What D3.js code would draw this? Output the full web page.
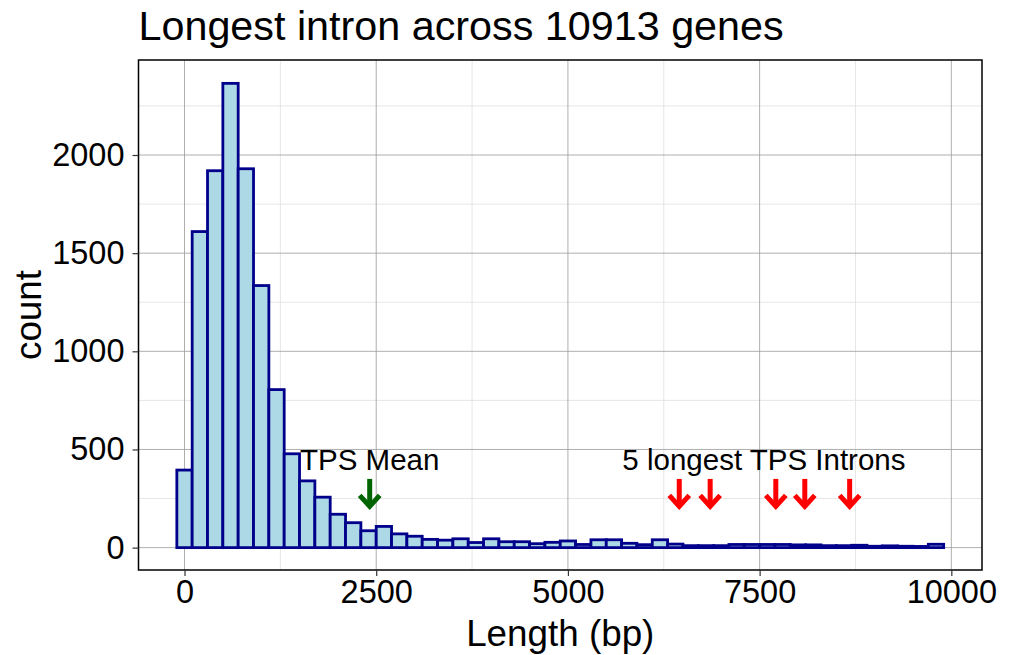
<!DOCTYPE html>
<html lang="en">
<head>
<meta charset="utf-8">
<title>Longest intron</title>
<style>
body { margin: 0; background: #fff; }
svg text { font-family: "Liberation Sans", Arial, sans-serif; fill: #000; }
.grid-major line { stroke: #9a9a9a; stroke-width: 0.8; }
.grid-minor line { stroke: #e0e0e0; stroke-width: 0.8; }
.axis text { font-size: 32.5px; }
.axis path { display: none; }
.axis line { stroke: #333; stroke-width: 1.2; }
</style>
</head>
<body>
<div id="chart"></div>
<script src="https://d3js.org/d3.v7.min.js"></script>
<script>
// histogram bins (centre of each 200 bp bin) and their counts
var binCenters = [0, 200, 400, 600, 800, 1000, 1200, 1400, 1600, 1800,
  2000, 2200, 2400, 2600, 2800, 3000, 3200, 3400, 3600, 3800,
  4000, 4200, 4400, 4600, 4800, 5000, 5200, 5400, 5600, 5800,
  6000, 6200, 6400, 6600, 6800, 7000, 7200, 7400, 7600, 7800,
  8000, 8200, 8400, 8600, 8800, 9000, 9200, 9400, 9600, 9800];
var counts = [395, 1610, 1920, 2365, 1930, 1335, 805, 478, 340, 257,
  170, 127, 86, 108, 70, 58, 42, 38, 45, 26,
  45, 30, 30, 20, 27, 34, 16, 40, 40, 22,
  15, 40, 18, 10, 10, 10, 16, 16, 16, 16,
  14, 14, 10, 10, 12, 7, 9, 7, 6, 17];
var binWidth = 200;

var xTicks = [0, 2500, 5000, 7500, 10000];
var xMinor = [1250, 3750, 6250, 8750];
var yTicks = [0, 500, 1000, 1500, 2000];
var yMinor = [250, 750, 1250, 1750, 2250];

// annotation arrows
var meanArrow = [2415];
var longestArrows = [6452, 6855, 7711, 8089, 8674];
var arrowFrom = 350, arrowTo = 200, labelY = 450;

var W = 1015, H = 655;
var margin = { top: 60, right: 33, bottom: 85, left: 138.5 };

var svg = d3.select("#chart").append("svg")
    .attr("width", W)
    .attr("height", H);

var x = d3.scaleLinear()
    .domain([-600, 10400])
    .range([margin.left, W - margin.right]);

var y = d3.scaleLinear()
    .domain([-114, 2484])
    .range([H - margin.bottom, margin.top]);

// grid
svg.append("g").attr("class", "grid-minor")
  .selectAll("line.v").data(xMinor).enter().append("line")
    .attr("x1", d => x(d)).attr("x2", d => x(d))
    .attr("y1", y.range()[0]).attr("y2", y.range()[1]);
svg.select(".grid-minor")
  .selectAll("line.h").data(yMinor).enter().append("line")
    .attr("y1", d => y(d)).attr("y2", d => y(d))
    .attr("x1", x.range()[0]).attr("x2", x.range()[1]);

var gMajor = svg.append("g").attr("class", "grid-major");
gMajor.selectAll("line.v").data(xTicks).enter().append("line")
    .attr("x1", d => x(d)).attr("x2", d => x(d))
    .attr("y1", y.range()[0]).attr("y2", y.range()[1]);
gMajor.selectAll("line.h").data(yTicks).enter().append("line")
    .attr("y1", d => y(d)).attr("y2", d => y(d))
    .attr("x1", x.range()[0]).attr("x2", x.range()[1]);

// bars
svg.append("g").selectAll("rect")
  .data(binCenters)
  .enter().append("rect")
    .attr("x", d => x(d - binWidth / 2))
    .attr("width", d => x(d + binWidth / 2) - x(d - binWidth / 2))
    .attr("y", (d, i) => y(counts[i]))
    .attr("height", (d, i) => y(0) - y(counts[i]))
    .attr("fill", "#add8e6")
    .attr("stroke", "#00008b")
    .attr("stroke-width", 2.8);

// arrows
function arrow(g, xv, color) {
  var px = x(xv), y0 = y(arrowFrom), y1 = y(arrowTo);
  g.append("line")
    .attr("x1", px).attr("x2", px)
    .attr("y1", y0).attr("y2", y1 - 3)
    .attr("stroke", color).attr("stroke-width", 5);
  g.append("path")
    .attr("d", "M" + (px - 10) + "," + (y1 - 13) + "L" + px + "," + (y1 - 2) + "L" + (px + 10) + "," + (y1 - 13))
    .attr("fill", "none")
    .attr("stroke", color).attr("stroke-width", 5)
    .attr("stroke-linejoin", "miter");
}
var gArr = svg.append("g");
meanArrow.forEach(v => arrow(gArr, v, "#006400"));
longestArrows.forEach(v => arrow(gArr, v, "#ff0000"));

svg.append("text")
    .attr("x", x(meanArrow[0]))
    .attr("y", y(labelY))
    .attr("dy", "0.35em")
    .attr("text-anchor", "middle")
    .style("font-size", "29.5px")
    .text("TPS Mean");

svg.append("text")
    .attr("x", x(d3.mean(longestArrows)))
    .attr("y", y(labelY))
    .attr("dy", "0.35em")
    .attr("text-anchor", "middle")
    .style("font-size", "29.5px")
    .text("5 longest TPS Introns");

// panel border
svg.append("rect")
    .attr("x", x.range()[0]).attr("y", y.range()[1])
    .attr("width", x.range()[1] - x.range()[0])
    .attr("height", y.range()[0] - y.range()[1])
    .attr("fill", "none")
    .attr("stroke", "#000")
    .attr("stroke-width", 1.5);

// axes
svg.append("g")
    .attr("class", "axis axis-x")
    .attr("transform", "translate(0," + y.range()[0] + ")")
    .call(d3.axisBottom(x).tickValues(xTicks).tickSize(6).tickPadding(4).tickFormat(d3.format("d")));

svg.append("g")
    .attr("class", "axis axis-y")
    .attr("transform", "translate(" + x.range()[0] + ",0)")
    .call(d3.axisLeft(y).tickValues(yTicks).tickSize(6).tickPadding(8).tickFormat(d3.format("d")));

// titles
svg.append("text")
    .attr("x", x.range()[0])
    .attr("y", 40)
    .style("font-size", "41.3px")
    .text("Longest intron across 10913 genes");

svg.append("text")
    .attr("x", (x.range()[0] + x.range()[1]) / 2)
    .attr("y", 646)
    .attr("text-anchor", "middle")
    .style("font-size", "36.8px")
    .text("Length (bp)");

svg.append("text")
    .attr("transform", "translate(41," + (y.range()[0] + y.range()[1]) / 2 + ") rotate(-90)")
    .attr("text-anchor", "middle")
    .style("font-size", "36.8px")
    .text("count");
</script>
</body>
</html>
